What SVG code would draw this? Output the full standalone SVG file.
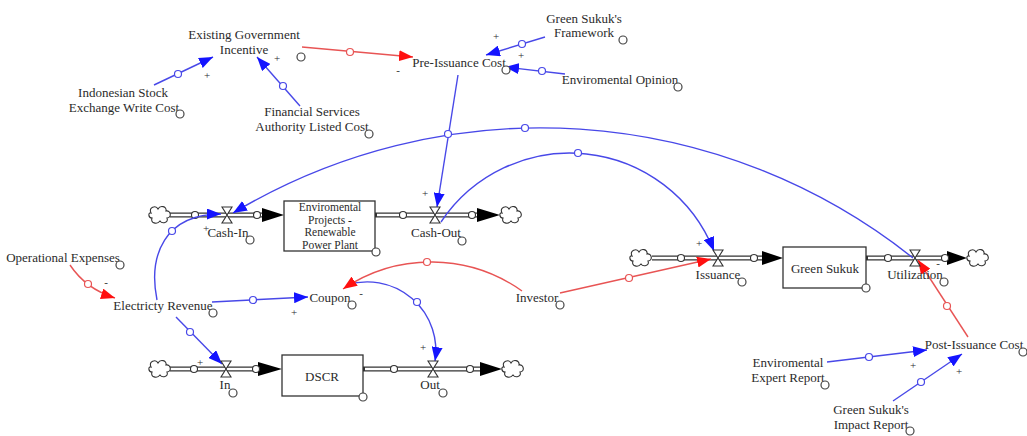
<svg xmlns="http://www.w3.org/2000/svg" width="1027" height="436" viewBox="0 0 1027 436">
<defs>
<style>
text{font-family:"Liberation Serif","Times New Roman",serif;font-size:13px;fill:#2b2b2b;text-anchor:middle}
.sg{font-size:11px}
.bx{font-size:11.5px}
.dot{fill:#fff;stroke:#444;stroke-width:1.2}
.bl{fill:none;stroke:#4848e8;stroke-width:1.4}
.rd{fill:none;stroke:#e85454;stroke-width:1.4}
.hb{fill:#fff;stroke:#4848e8;stroke-width:1.2}
.hr{fill:#fff;stroke:#e85454;stroke-width:1.2}
.pipeo{stroke:#333;stroke-width:5;fill:none}
.pipei{stroke:#fff;stroke-width:2.6;fill:none}
.pc{fill:#fff;stroke:#333;stroke-width:1.1}
.box{fill:#fff;stroke:#333;stroke-width:1.3}
.valve{fill:#fff;stroke:#333;stroke-width:1.1}
.ph{fill:#000}
.cloud{fill:#fff;stroke:#333;stroke-width:1.1}
</style>
<marker id="ab" viewBox="0 0 14 11" refX="14" refY="5.5" markerWidth="14" markerHeight="11" markerUnits="userSpaceOnUse" orient="auto"><path d="M0,0 L14,5.5 L0,11 Z" fill="#1414ff"/></marker>
<marker id="ar" viewBox="0 0 14 11" refX="14" refY="5.5" markerWidth="14" markerHeight="11" markerUnits="userSpaceOnUse" orient="auto"><path d="M0,0 L14,5.5 L0,11 Z" fill="#ff1010"/></marker>
<path id="cl" class="cloud" d="M-9,-2 C-12,-8 -4,-10 -2,-6 C0,-10 7,-9 6,-4 C11,-5 12,3 7,3 C9,8 2,9 0,6 C-3,10 -10,8 -8,3 C-12,3 -12,-3 -9,-2 Z"/>
<path id="vl" class="valve" d="M-5,-8 H5 L-5,8 H5 Z"/>
</defs>
<rect width="1027" height="436" fill="#fff"/>

<!-- pipes / flows -->
<g id="flows">
<g id="flow-env">
<path class="pipeo" d="M170,215 H264 M375,215 H478"/>
<path class="pipei" d="M168,215 H264 M377,215 H478"/>
<polygon class="ph" points="262,208 284,215 262,222"/>
<polygon class="ph" points="477,208 500,215 477,222"/>
<use href="#cl" x="160" y="215"/>
<use href="#cl" x="511" y="215"/>
<circle class="pc" cx="195" cy="215" r="3.5"/>
<circle class="pc" cx="257" cy="215" r="3.5"/>
<circle class="pc" cx="403" cy="215" r="3.5"/>
<circle class="pc" cx="472" cy="215" r="3.5"/>
</g>
<g id="flow-dscr">
<path class="pipeo" d="M170,369 H260 M363,369 H482"/>
<path class="pipei" d="M168,369 H260 M365,369 H482"/>
<polygon class="ph" points="258,362 282,369 258,376"/>
<polygon class="ph" points="480,362 502,369 480,376"/>
<use href="#cl" x="160" y="369"/>
<use href="#cl" x="513" y="369"/>
<circle class="pc" cx="194" cy="369" r="3.5"/>
<circle class="pc" cx="256" cy="369" r="3.5"/>
<circle class="pc" cx="394" cy="369" r="3.5"/>
<circle class="pc" cx="470" cy="369" r="3.5"/>
</g>
<g id="flow-sukuk">
<path class="pipeo" d="M652,258 H764 M866,258 H949"/>
<path class="pipei" d="M650,258 H764 M868,258 H949"/>
<polygon class="ph" points="762,251 783,258 762,265"/>
<polygon class="ph" points="947,251 967,258 947,265"/>
<use href="#cl" x="641" y="258"/>
<use href="#cl" x="978" y="258"/>
<circle class="pc" cx="681" cy="258" r="3.5"/>
<circle class="pc" cx="754" cy="258" r="3.5"/>
<circle class="pc" cx="888" cy="258" r="3.5"/>
<circle class="pc" cx="945" cy="258" r="3.5"/>
</g>
</g>

<!-- connectors -->
<g id="connectors">
<path class="rd" d="M302,47 L413,57" marker-end="url(#ar)"/>
<circle class="hr" cx="350" cy="52" r="3.5"/>
<path class="bl" d="M154,85 L213,57" marker-end="url(#ab)"/>
<circle class="hb" cx="178" cy="74" r="3.5"/>
<path class="bl" d="M300,106 L257,57" marker-end="url(#ab)"/>
<circle class="hb" cx="283" cy="86" r="3.5"/>
<path class="bl" d="M545,37 L486,55" marker-end="url(#ab)"/>
<circle class="hb" cx="522" cy="44" r="3.5"/>
<path class="bl" d="M565,74 L505,67" marker-end="url(#ab)"/>
<circle class="hb" cx="542" cy="71" r="3.5"/>
<path class="bl" d="M458,75 L437,207" marker-end="url(#ab)"/>
<path class="bl" d="M913,258 A598,598 0 0 0 233,213" marker-end="url(#ab)"/>
<circle class="hb" cx="448" cy="134" r="3.5"/>
<circle class="hb" cx="525" cy="128" r="3.5"/>
<path class="bl" d="M441,222 A155,155 0 0 1 714,251" marker-end="url(#ab)"/>
<circle class="hb" cx="578" cy="153" r="3.5"/>
<path class="bl" d="M157,300 C148,255 165,214 221,214" marker-end="url(#ab)"/>
<circle class="hb" cx="172" cy="231" r="3.5"/>
<path class="rd" d="M70,265 Q86,289 115,298" marker-end="url(#ar)"/>
<circle class="hr" cx="88" cy="284" r="3.5"/>
<path class="bl" d="M212,302 L308,297" marker-end="url(#ab)"/>
<circle class="hb" cx="253" cy="300" r="3.5"/>
<path class="bl" d="M176,317 L222,364" marker-end="url(#ab)"/>
<circle class="hb" cx="190" cy="332" r="3.5"/>
<path class="bl" d="M347,285 A68.5,68.5 0 0 1 435,361" marker-end="url(#ab)"/>
<circle class="hb" cx="417" cy="302" r="3.5"/>
<path class="rd" d="M522,291 A157,157 0 0 0 343,289" marker-end="url(#ar)"/>
<circle class="hr" cx="427" cy="262" r="3.5"/>
<path class="rd" d="M560,293 L711,259" marker-end="url(#ar)"/>
<circle class="hr" cx="629" cy="278" r="3.5"/>
<path class="rd" d="M968,337 L918,260" marker-end="url(#ar)"/>
<circle class="hr" cx="947" cy="306" r="3.5"/>
<path class="bl" d="M827,362 L927,350" marker-end="url(#ab)"/>
<circle class="hb" cx="869" cy="357" r="3.5"/>
<path class="bl" d="M893,401 L962,354" marker-end="url(#ab)"/>
<circle class="hb" cx="921" cy="382" r="3.5"/>
</g>

<!-- polarity signs -->
<g id="signs">
<text class="sg" x="277" y="62">+</text>
<text class="sg" x="207" y="79">+</text>
<text class="sg" x="398" y="74">-</text>
<text class="sg" x="496" y="40">+</text>
<text class="sg" x="521" y="59">+</text>
<text class="sg" x="425" y="197">+</text>
<text class="sg" x="206" y="232">+</text>
<text class="sg" x="106" y="286">-</text>
<text class="sg" x="361" y="297">-</text>
<text class="sg" x="294" y="316">+</text>
<text class="sg" x="200" y="366">+</text>
<text class="sg" x="423" y="351">+</text>
<text class="sg" x="699" y="247">+</text>
<text class="sg" x="938" y="267">-</text>
<text class="sg" x="913" y="369">+</text>
<text class="sg" x="959" y="375">+</text>
</g>

<!-- nodes -->
<g id="existing-government-incentive"><text x="244" y="39">Existing Government</text><text x="244" y="54">Incentive</text><circle class="dot" cx="301" cy="57" r="4"/></g>
<g id="indonesian-stock-exchange"><text x="123" y="97">Indonesian Stock</text><text x="124" y="112">Exchange Write Cost</text><circle class="dot" cx="180" cy="114" r="4"/></g>
<g id="financial-services-authority"><text x="312" y="116">Financial Services</text><text x="312" y="131">Authority Listed Cost</text><circle class="dot" cx="369" cy="134" r="4"/></g>
<g id="pre-issuance-cost"><text x="459" y="67">Pre-Issuance Cost</text><circle class="dot" cx="506" cy="70" r="4"/></g>
<g id="green-sukuk-framework"><text x="584" y="23">Green Sukuk's</text><text x="584" y="37">Framework</text><circle class="dot" cx="623" cy="40" r="4"/></g>
<g id="enviromental-opinion"><text x="620" y="84">Enviromental Opinion</text><circle class="dot" cx="678" cy="87" r="4"/></g>
<g id="enviromental-projects"><rect class="box" x="284" y="201" width="91" height="50"/><text class="bx" x="330" y="211">Enviromental</text><text class="bx" x="330" y="223.5">Projects -</text><text class="bx" x="330" y="236">Renewable</text><text class="bx" x="330" y="248.5">Power Plant</text><circle class="dot" cx="376" cy="252" r="4"/></g>
<g id="cash-in"><use href="#vl" x="227" y="215"/><text x="228" y="237">Cash-In</text><circle class="dot" cx="250" cy="240" r="4"/></g>
<g id="cash-out"><use href="#vl" x="435" y="215"/><text x="436" y="237">Cash-Out</text><circle class="dot" cx="462" cy="241" r="4"/></g>
<g id="operational-expenses"><text x="63" y="262">Operational Expenses</text><circle class="dot" cx="120" cy="265" r="4"/></g>
<g id="electricity-revenue"><text x="163" y="310">Electricty Revenue</text><circle class="dot" cx="213" cy="313" r="4"/></g>
<g id="coupon"><text x="330" y="302">Coupon</text><circle class="dot" cx="352" cy="305" r="4"/></g>
<g id="investor"><text x="537" y="302">Investor</text><circle class="dot" cx="560" cy="305" r="4"/></g>
<g id="dscr"><rect class="box" x="282" y="355" width="81" height="41"/><text x="322" y="381">DSCR</text><circle class="dot" cx="363" cy="397" r="4"/></g>
<g id="in"><use href="#vl" x="226" y="369"/><text x="225" y="389">In</text><circle class="dot" cx="233" cy="393" r="4"/></g>
<g id="out"><use href="#vl" x="433" y="369"/><text x="430" y="389">Out</text><circle class="dot" cx="443" cy="393" r="4"/></g>
<g id="green-sukuk"><rect class="box" x="783" y="247" width="83" height="41"/><text x="825" y="273">Green Sukuk</text><circle class="dot" cx="866" cy="288" r="4"/></g>
<g id="issuance"><use href="#vl" x="718" y="258"/><text x="718" y="279">Issuance</text><circle class="dot" cx="742" cy="282" r="4"/></g>
<g id="utilization"><use href="#vl" x="915" y="258"/><text x="915" y="279">Utilization</text><circle class="dot" cx="944" cy="282" r="4"/></g>
<g id="post-issuance-cost"><text x="974" y="349">Post-Issuance Cost</text><circle class="dot" cx="1023" cy="352" r="4"/></g>
<g id="enviromental-expert-report"><text x="788" y="367">Enviromental</text><text x="788" y="382">Expert Report</text><circle class="dot" cx="825" cy="385" r="4"/></g>
<g id="green-sukuk-impact-report"><text x="871" y="414">Green Sukuk's</text><text x="871" y="429">Impact Report</text><circle class="dot" cx="910" cy="431" r="4"/></g>
</svg>
